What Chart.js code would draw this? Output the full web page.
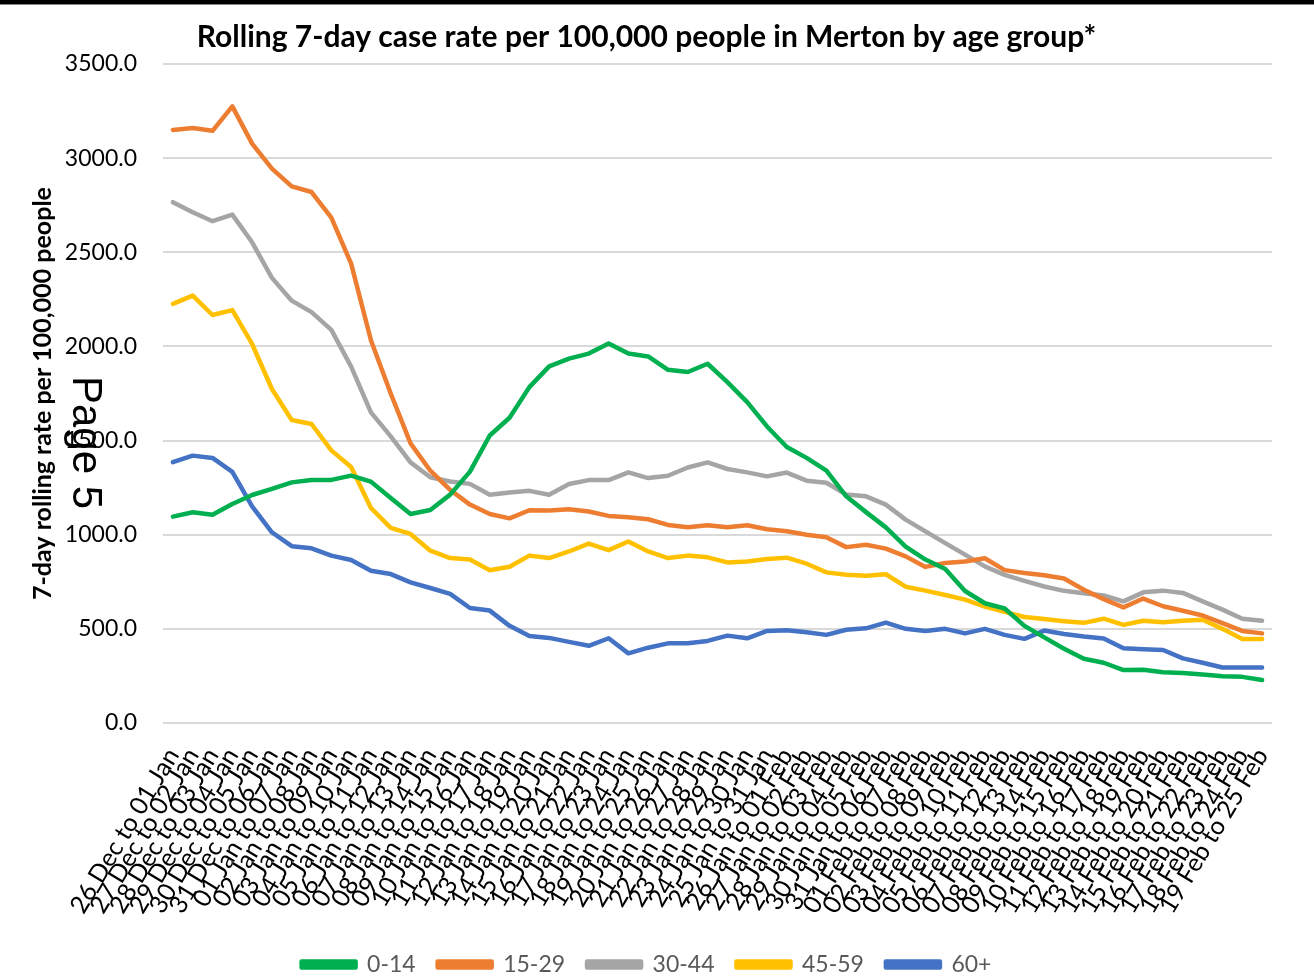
<!DOCTYPE html>
<html>
<head>
<meta charset="utf-8">
<script src="https://cdn.jsdelivr.net/npm/chart.js@4.4.1/dist/chart.umd.min.js"></script>
<style>
  html, body { margin: 0; padding: 0; background: #fff; }
  #box { width: 1314px; height: 980px; }
</style>
</head>
<body>
<div id="box"><canvas id="chart" width="1314" height="980"></canvas></div>
<script>
const weeks = [
  "26 Dec to 01 Jan", "27 Dec to 02 Jan", "28 Dec to 03 Jan", "29 Dec to 04 Jan",
  "30 Dec to 05 Jan", "31 Dec to 06 Jan", "01 Jan to 07 Jan", "02 Jan to 08 Jan",
  "03 Jan to 09 Jan", "04 Jan to 10 Jan", "05 Jan to 11 Jan", "06 Jan to 12 Jan",
  "07 Jan to 13 Jan", "08 Jan to 14 Jan", "09 Jan to 15 Jan", "10 Jan to 16 Jan",
  "11 Jan to 17 Jan", "12 Jan to 18 Jan", "13 Jan to 19 Jan", "14 Jan to 20 Jan",
  "15 Jan to 21 Jan", "16 Jan to 22 Jan", "17 Jan to 23 Jan", "18 Jan to 24 Jan",
  "19 Jan to 25 Jan", "20 Jan to 26 Jan", "21 Jan to 27 Jan", "22 Jan to 28 Jan",
  "23 Jan to 29 Jan", "24 Jan to 30 Jan", "25 Jan to 31 Jan", "26 Jan to 01 Feb",
  "27 Jan to 02 Feb", "28 Jan to 03 Feb", "29 Jan to 04 Feb", "30 Jan to 05 Feb",
  "31 Jan to 06 Feb", "01 Feb to 07 Feb", "02 Feb to 08 Feb", "03 Feb to 09 Feb",
  "04 Feb to 10 Feb", "05 Feb to 11 Feb", "06 Feb to 12 Feb", "07 Feb to 13 Feb",
  "08 Feb to 14 Feb", "09 Feb to 15 Feb", "10 Feb to 16 Feb", "11 Feb to 17 Feb",
  "12 Feb to 18 Feb", "13 Feb to 19 Feb", "14 Feb to 20 Feb", "15 Feb to 21 Feb",
  "16 Feb to 22 Feb", "17 Feb to 23 Feb", "18 Feb to 24 Feb", "19 Feb to 25 Feb",
];

const age0to14 = [
  1096, 1119, 1106, 1163, 1211, 1243, 1278, 1291, 1291, 1314, 1282, 1195, 1110, 1131,
  1213, 1335, 1527, 1621, 1784, 1894, 1935, 1962, 2015, 1962, 1947, 1876, 1864, 1908,
  1810, 1704, 1575, 1466, 1408, 1340, 1204, 1120, 1039, 937, 868, 818, 701, 636,
  608, 516, 455, 394, 341, 320, 281, 283, 270, 265, 257, 248, 245, 228,
];
const age15to29 = [
  3150, 3160, 3145, 3275, 3077, 2944, 2850, 2820, 2684, 2440, 2033, 1750, 1485, 1340,
  1238, 1160, 1110, 1087, 1130, 1128, 1135, 1123, 1100, 1093, 1082, 1052, 1040, 1050,
  1040, 1050, 1029, 1018, 1000, 986, 934, 947, 926, 885, 829, 850, 858, 875,
  812, 797, 785, 767, 708, 658, 614, 661, 620, 596, 571, 530, 489, 476,
];
const age30to44 = [
  2766, 2713, 2665, 2700, 2553, 2364, 2243, 2182, 2088, 1893, 1650, 1522, 1384, 1305,
  1283, 1270, 1212, 1224, 1233, 1212, 1269, 1290, 1290, 1331, 1301, 1313, 1357, 1384,
  1349, 1331, 1310, 1330, 1287, 1276, 1213, 1204, 1160, 1080, 1018, 955, 894, 832,
  787, 755, 725, 702, 689, 677, 646, 694, 703, 691, 646, 602, 554, 543,
];
const age45to59 = [
  2226, 2270, 2167, 2193, 2013, 1774, 1609, 1588, 1448, 1360, 1142, 1036, 1004, 915,
  876, 868, 811, 830, 889, 876, 911, 953, 918, 964, 911, 876, 889, 880,
  853, 858, 871, 878, 846, 800, 787, 782, 790, 724, 703, 680, 655, 618,
  590, 563, 552, 541, 532, 554, 521, 543, 535, 543, 548, 500, 446, 446,
];
const age60plus = [
  1385, 1420, 1408, 1334, 1150, 1013, 939, 928, 889, 866, 809, 791, 747, 717,
  686, 611, 597, 516, 462, 452, 431, 410, 450, 370, 400, 423, 423, 436,
  464, 450, 489, 492, 482, 468, 495, 503, 533, 500, 489, 500, 476, 500,
  468, 447, 491, 473, 459, 449, 397, 392, 388, 343, 320, 295, 295, 295,
];

const yTicks = [0, 500, 1000, 1500, 2000, 2500, 3000, 3500];

Chart.defaults.font.family = "Lato";
Chart.defaults.color = "#000";

function series(label, data, color) {
  return {
    label, data,
    borderColor: color,
    backgroundColor: color,
    borderWidth: 4.5,
    pointRadius: 0,
    tension: 0,
    borderCapStyle: "round",
    borderJoinStyle: "round",
  };
}

// page furniture from the scanned slide: top rule and the "Page 5" stamp
const pageMarks = {
  id: "pageMarks",
  afterDraw(chart) {
    const ctx = chart.ctx;
    ctx.save();
    ctx.fillStyle = "#000";
    ctx.fillRect(0, 0, chart.width, 4);
    ctx.fillStyle = "#888";
    ctx.fillRect(0, 4, chart.width, 1);
    ctx.translate(73, 376);
    ctx.rotate(Math.PI / 2);
    ctx.font = "42px 'Liberation Sans'";
    ctx.fillStyle = "#000";
    ctx.textBaseline = "alphabetic";
    ctx.fillText("Page 5", 0, 0);
    ctx.restore();
  },
};

new Chart(document.getElementById("chart"), {
  type: "line",
  data: {
    labels: weeks,
    datasets: [
      series("0-14", age0to14, "#00B050"),
      series("15-29", age15to29, "#ED7D31"),
      series("30-44", age30to44, "#A5A5A5"),
      series("45-59", age45to59, "#FFC000"),
      series("60+", age60plus, "#4472C4"),
    ],
  },
  options: {
    responsive: false,
    animation: false,
    layout: { padding: { left: 0, right: 21, top: 0, bottom: -6 } },
    plugins: {
      title: {
        display: true,
        text: "Rolling 7-day case rate per 100,000 people in Merton by age group*",
        font: { size: 30, weight: "bold" },
        color: "#000",
        padding: { top: 19, bottom: 9 },
      },
      legend: {
        position: "bottom",
        labels: {
          boxWidth: 54,
          boxHeight: 6,
          padding: 22,
          color: "#595959",
          font: { size: 23 },
        },
      },
      tooltip: { enabled: false },
    },
    scales: {
      x: {
        offset: true,
        grid: { display: false },
        border: { display: false },
        ticks: {
          autoSkip: false,
          minRotation: 59,
          maxRotation: 59,
          padding: 12,
          font: { size: 25 },
          color: "#000",
        },
        afterFit(scale) { scale.height = 208; },
      },
      y: {
        min: 0,
        max: 3500,
        afterBuildTicks(scale) { scale.ticks = yTicks.map((v) => ({ value: v })); },
        grid: { color: "#d9d9d9", lineWidth: 2, drawTicks: false },
        border: { display: false },
        ticks: {
          padding: 26,
          font: { size: 23 },
          color: "#000",
          callback: (v) => Number(v).toFixed(1),
        },
        title: {
          display: true,
          text: "7-day rolling rate per 100,000 people",
          font: { size: 25, weight: "bold" },
          color: "#000",
          padding: { top: 28, bottom: 0 },
        },
        afterFit(scale) { scale.width = 163; },
      },
      // empty right-hand gutter so the plot ends where the original does
      gutter: {
        position: "right",
        grid: { display: false },
        border: { display: false },
        ticks: { display: false },
        afterFit(scale) { scale.width = 21; },
      },
    },
  },
  plugins: [pageMarks],
});
</script>
</body>
</html>
